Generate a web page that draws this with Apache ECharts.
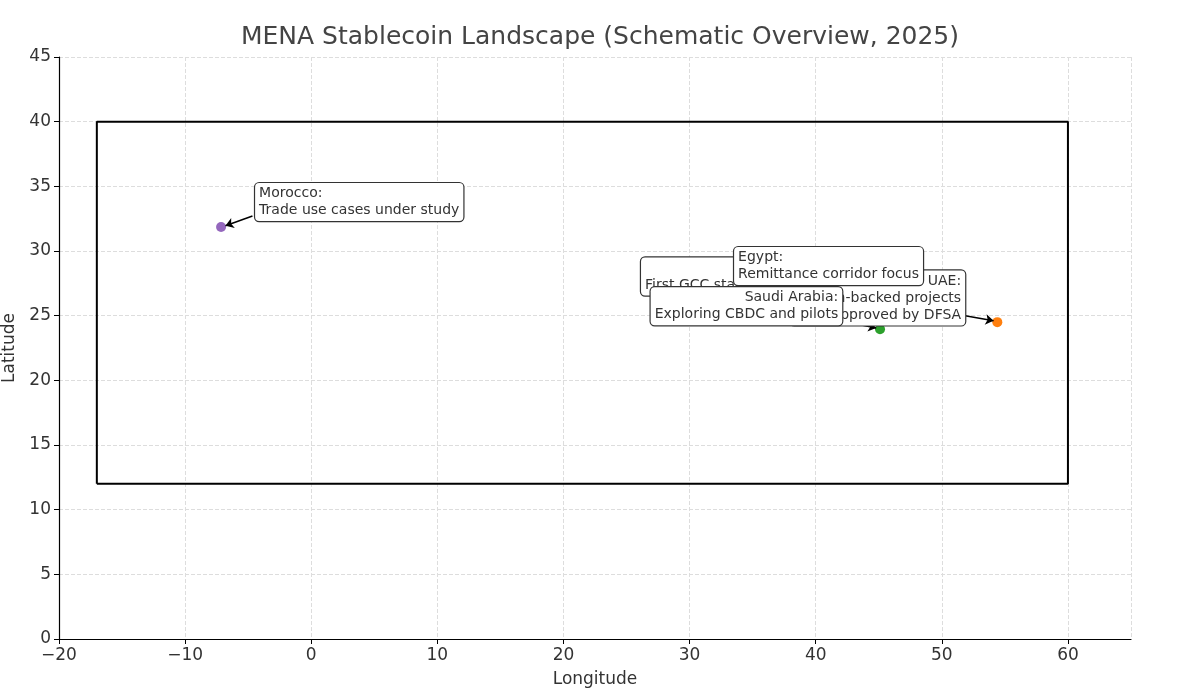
<!DOCTYPE html><html><head><meta charset="utf-8"><script src="https://cdn.jsdelivr.net/npm/echarts@6/dist/echarts.min.js"></script></head><body style="margin:0"><div id="c" style="width:1200px;height:699px"></div><script>
const countries=['Morocco','Egypt','Bahrain','Saudi Arabia','UAE'];
const lons=[-7.15,31.2,50.5,45.1,54.4];
const lats=[31.85,26.8,26.0,23.95,24.5];
const colors=['#9467bd','#1f77b4','#d62728','#2ca02c','#ff7f0e'];
const notes=['Morocco:\nTrade use cases under study','Egypt:\nRemittance corridor focus','\nFirst GCC stablecoin licence','Saudi Arabia:\nExploring CBDC and pilots','UAE:\nDirham-backed projects\napproved by DFSA'];
const noteX=[-4.45,33.53,26.15,42.1,51.85];
const noteY=[35.25,30.3,29.5,27.2,28.5];
const noteAlign=['left','left','left','right','right'];
const arrowFrom=[[-4.66,32.7],[33.9,27.6],null,[40.5,24.9],[51.85,25.0]];
const arrowTo=[[-6.8,31.95],[31.1,27.0],null,[44.8,24.05],[54.1,24.6]];
const region=[[-17,12],[60,12],[60,40],[-17,40],[-17,12]];
const font='DejaVu Sans';
const series=[
 {type:'line',data:region,symbol:'none',lineStyle:{color:'#000',width:2},z:2,silent:true},
 {type:'scatter',data:lons.map((x,i)=>({value:[x,lats[i]],itemStyle:{color:colors[i],opacity:1}})),symbolSize:10,z:3},
 {type:'lines',coordinateSystem:'cartesian2d',symbol:['none','arrow'],symbolSize:8,lineStyle:{color:'#000',width:1.5,opacity:1},z:4,
  data:arrowFrom.map((f,i)=>f?{coords:[f,arrowTo[i]]}:null).filter(Boolean)}
];
const order=[2,4,3,0,1];
order.forEach((i,k)=>series.push({type:'scatter',symbolSize:0,z:5+k,itemStyle:{opacity:1},data:[[noteX[i],noteY[i]]],
 label:{show:true,position:[0,0],align:noteAlign[i],verticalAlign:'top',formatter:notes[i],fontFamily:font,fontSize:14,color:'#333',lineHeight:17,opacity:1,
 backgroundColor:'#fff',borderColor:'#333',borderWidth:1.2,borderRadius:4,padding:[2,4,2,4]}}));
echarts.init(document.getElementById('c')).setOption({
 animation:false,
 title:{text:'MENA Stablecoin Landscape (Schematic Overview, 2025)',left:595,textAlign:'center',top:20,textStyle:{fontFamily:font,fontSize:25,fontWeight:'normal',color:'#444'}},
 grid:{left:59,right:69,top:57,bottom:60,containLabel:false,outerBoundsMode:'none'},
 xAxis:{type:'value',min:-20,max:65,interval:10,name:'Longitude',nameLocation:'middle',nameGap:32,nameTextStyle:{fontFamily:font,fontSize:17,color:'#333'},
  axisLine:{onZero:false,lineStyle:{color:'#000',width:1.2}},axisTick:{show:true,lineStyle:{color:'#000'}},axisLabel:{fontFamily:font,fontSize:17,color:'#333',showMaxLabel:false,formatter:v=>String(v).replace('-','\u2212')},
  splitLine:{lineStyle:{type:'dashed',color:'#ddd'}}},
 yAxis:{type:'value',min:0,max:45,interval:5,name:'Latitude',nameLocation:'middle',nameGap:34,nameTextStyle:{fontFamily:font,fontSize:17,color:'#333'},
  axisLine:{show:true,onZero:false,lineStyle:{color:'#000',width:1.2}},axisTick:{show:true,lineStyle:{color:'#000'}},axisLabel:{fontFamily:font,fontSize:17,color:'#333'},
  splitLine:{lineStyle:{type:'dashed',color:'#ddd'}}},
 series
});
</script></body></html>
